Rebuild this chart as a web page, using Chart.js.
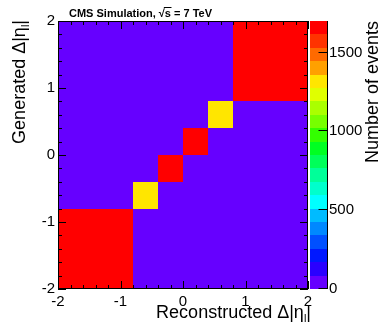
<!DOCTYPE html>
<html><head><meta charset="utf-8">
<script src="https://cdn.jsdelivr.net/npm/chart.js@4.4.0/dist/chart.umd.min.js"></script>
<style>html,body{margin:0;padding:0;background:#fff;}#wrap{width:382px;height:326px;}</style>
</head><body><div id="wrap"><canvas id="c" width="382" height="326"></canvas></div>
<script>
// ---- data ----
const xEdges = [-2, -0.8, -0.4, 0, 0.4, 0.8, 2];
const yEdges = [-2, -0.8, -0.4, 0, 0.4, 0.8, 2];
// counts[yBin][xBin]
const counts = [
  [1690, 0, 0, 0, 0, 0],
  [0, 1320, 0, 0, 0, 0],
  [0, 0, 1680, 0, 0, 0],
  [0, 0, 0, 1680, 0, 0],
  [0, 0, 0, 0, 1320, 0],
  [0, 0, 0, 0, 0, 1690]
];
const xTicks = [-2, -1, 0, 1, 2];
const yTicks = [-2, -1, 0, 1, 2];
const zTicks = [0, 500, 1000, 1500];
const zMax = 1700;
const headerText = ["CMS Simulation, \u221A", "s", " = 7 TeV"];
const xTitleParts = ["Reconstructed \u0394|\u03B7", "l", "|"];
const yTitleParts = ["Generated \u0394|\u03B7", "l", "|"];
const zTitle = "Number of events";

// ---- style ----
const palette = ["#6600ff","#2a00ff","#0018ff","#0050ff","#0088ff","#00bbff","#00ffff","#00ffcc",
  "#00ff99","#00ff5a","#00ff22","#33ff00","#77ff00","#aaff00","#e0ff00","#ffe600",
  "#ffa000","#ff6a00","#ff3300","#ff0000"];
const FONT = "'Liberation Sans', Arial, Helvetica, sans-serif";
function colorFor(v){ let k = Math.floor(v / zMax * palette.length); return palette[Math.max(0, Math.min(palette.length-1, k))]; }

function drawParts(ctx, parts, size, subSize){
  ctx.font = size + "px " + FONT;
  const w0 = ctx.measureText(parts[0]).width;
  ctx.font = subSize + "px " + FONT;
  const w1 = ctx.measureText(parts[1]).width;
  ctx.font = size + "px " + FONT;
  const w2 = ctx.measureText(parts[2]).width;
  return {w0, w1, w2, total: w0 + w1 + w2};
}
function paintParts(ctx, parts, size, subSize, x, y){
  const m = drawParts(ctx, parts, size, subSize);
  ctx.textAlign = "left"; ctx.textBaseline = "alphabetic";
  ctx.font = size + "px " + FONT; ctx.fillText(parts[0], x, y);
  ctx.font = subSize + "px " + FONT; ctx.fillText(parts[1], x + m.w0, y + 4);
  ctx.font = size + "px " + FONT; ctx.fillText(parts[2], x + m.w0 + m.w1, y);
}

const hist2d = {
  id: "hist2d",
  beforeDatasetsDraw(chart){
    const ctx = chart.ctx, xs = chart.scales.x, ys = chart.scales.y, zs = chart.scales.z;
    ctx.save();
    for (let j = 0; j < counts.length; j++){
      for (let i = 0; i < counts[j].length; i++){
        const x0 = Math.round(xs.getPixelForValue(xEdges[i])), x1 = Math.round(xs.getPixelForValue(xEdges[i+1]));
        const y0 = Math.round(ys.getPixelForValue(yEdges[j+1])), y1 = Math.round(ys.getPixelForValue(yEdges[j]));
        ctx.fillStyle = colorFor(counts[j][i]);
        ctx.fillRect(x0, y0, x1 - x0, y1 - y0);
      }
    }
    const bl = zs.left + 2, bw = 17;
    for (let k = 0; k < palette.length; k++){
      const p0 = Math.round(zs.getPixelForValue((k+1) * zMax / palette.length));
      const p1 = Math.round(zs.getPixelForValue(k * zMax / palette.length));
      ctx.fillStyle = palette[k];
      ctx.fillRect(bl, p0, bw, p1 - p0);
    }
    ctx.restore();
  },
  afterDraw(chart){
    const ctx = chart.ctx, a = chart.chartArea, xs = chart.scales.x, ys = chart.scales.y, zs = chart.scales.z;
    ctx.save();
    ctx.strokeStyle = "#000"; ctx.lineWidth = 1;
    ctx.strokeRect(Math.round(a.left) + 0.5, Math.round(a.top) + 0.5, Math.round(a.right - a.left) - 1, Math.round(a.bottom - a.top) - 1);
    ctx.beginPath();
    for (let k = 0; k <= 20; k++){
      const v = -2 + 0.2 * k;
      const major = k % 5 === 0;
      const len = major ? 8 : 4;
      const px = Math.round(xs.getPixelForValue(v)) + 0.5;
      ctx.moveTo(px, a.bottom); ctx.lineTo(px, a.bottom - len);
      ctx.moveTo(px, a.top); ctx.lineTo(px, a.top + len);
      const py = Math.round(ys.getPixelForValue(v)) + 0.5;
      ctx.moveTo(a.left, py); ctx.lineTo(a.left + len, py);
      ctx.moveTo(a.right, py); ctx.lineTo(a.right - len, py);
    }
    const br = zs.left + 19 + 0.5;
    ctx.moveTo(br, a.top); ctx.lineTo(br, a.bottom);
    zTicks.forEach(v => {
      const py = Math.round(zs.getPixelForValue(v)) - 0.5;
      ctx.moveTo(br, py); ctx.lineTo(br - 9, py);
    });
    ctx.stroke();

    ctx.fillStyle = "#000";
    ctx.font = "bold 11px " + FONT; ctx.textAlign = "left"; ctx.textBaseline = "alphabetic";
    const hx = 69, hy = 17;
    const w0 = ctx.measureText(headerText[0]).width, w1 = ctx.measureText(headerText[1]).width;
    ctx.fillText(headerText[0] + headerText[1] + headerText[2], hx, hy);
    ctx.beginPath(); ctx.lineWidth = 1;
    ctx.moveTo(hx + w0 - 1, hy - 9.5); ctx.lineTo(hx + w0 + w1 + 0.5, hy - 9.5); ctx.stroke();

    const mx = drawParts(ctx, xTitleParts, 18, 11);
    paintParts(ctx, xTitleParts, 18, 11, 311 - mx.total, 318);
    const my = drawParts(ctx, yTitleParts, 18, 11);
    ctx.save(); ctx.translate(25, 20); ctx.rotate(-Math.PI / 2);
    paintParts(ctx, yTitleParts, 18, 11, -my.total, 0);
    ctx.restore();
    ctx.save(); ctx.translate(378, 21); ctx.rotate(-Math.PI / 2);
    ctx.font = "18px " + FONT; ctx.textAlign = "right"; ctx.textBaseline = "alphabetic";
    ctx.fillText(zTitle, 0, 0);
    ctx.restore();
    ctx.restore();
  }
};

const tickFont = {family: FONT, size: 15};
function noPadV(s, w){ s.width = w; s.paddingTop = 0; s.paddingBottom = 0; }
new Chart(document.getElementById("c"), {
  type: "scatter",
  data: {datasets: [{data: [], pointRadius: 0}]},
  options: {
    responsive: false, animation: false,
    layout: {padding: {top: 21, left: 0, right: 0, bottom: 0}},
    plugins: {legend: {display: false}, tooltip: {enabled: false}},
    scales: {
      x: {type: "linear", position: "bottom", min: -2, max: 2,
        afterBuildTicks: s => { s.ticks = xTicks.map(v => ({value: v})); },
        ticks: {font: tickFont, color: "#000", padding: 4, maxRotation: 0, autoSkip: false, callback: v => String(v)},
        grid: {display: false, drawTicks: false}, border: {display: false},
        afterFit: s => { s.height = 37; s.paddingLeft = 0; s.paddingRight = 0; }},
      y: {type: "linear", position: "left", min: -2, max: 2,
        afterBuildTicks: s => { s.ticks = yTicks.map(v => ({value: v})); },
        ticks: {font: tickFont, color: "#000", padding: 3, autoSkip: false, callback: v => String(v)},
        grid: {display: false, drawTicks: false}, border: {display: false},
        afterFit: s => noPadV(s, 58)},
      z: {type: "linear", position: "right", axis: "y", min: 0, max: zMax,
        afterBuildTicks: s => { s.ticks = zTicks.map(v => ({value: v})); },
        ticks: {font: tickFont, color: "#000", padding: 21, autoSkip: false, callback: v => String(v)},
        grid: {display: false, drawTicks: false}, border: {display: false},
        afterFit: s => noPadV(s, 74)}
    }
  },
  plugins: [hist2d]
});
</script></body></html>
